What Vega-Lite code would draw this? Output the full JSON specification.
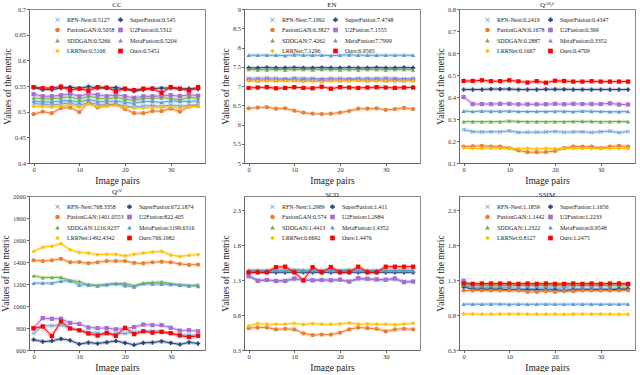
{
"$schema": "https://vega.github.io/schema/vega-lite/v6.json",
"padding": {"left": 0, "top": 0, "right": 0, "bottom": 0},
"datasets": {
"cc": [
{"m":"RFN-Nest","x":0,"y":0.516},{"m":"RFN-Nest","x":2,"y":0.514},{"m":"RFN-Nest","x":4,"y":0.513},{"m":"RFN-Nest","x":6,"y":0.515},{"m":"RFN-Nest","x":8,"y":0.517},{"m":"RFN-Nest","x":10,"y":0.512},{"m":"RFN-Nest","x":12,"y":0.518},{"m":"RFN-Nest","x":14,"y":0.514},{"m":"RFN-Nest","x":16,"y":0.513},{"m":"RFN-Nest","x":18,"y":0.515},{"m":"RFN-Nest","x":20,"y":0.511},{"m":"RFN-Nest","x":22,"y":0.509},{"m":"RFN-Nest","x":24,"y":0.511},{"m":"RFN-Nest","x":26,"y":0.512},{"m":"RFN-Nest","x":28,"y":0.510},{"m":"RFN-Nest","x":30,"y":0.513},{"m":"RFN-Nest","x":32,"y":0.511},{"m":"RFN-Nest","x":34,"y":0.512},{"m":"RFN-Nest","x":36,"y":0.514},
{"m":"SuperFusion","x":0,"y":0.547},{"m":"SuperFusion","x":2,"y":0.543},{"m":"SuperFusion","x":4,"y":0.543},{"m":"SuperFusion","x":6,"y":0.546},{"m":"SuperFusion","x":8,"y":0.548},{"m":"SuperFusion","x":10,"y":0.545},{"m":"SuperFusion","x":12,"y":0.549},{"m":"SuperFusion","x":14,"y":0.546},{"m":"SuperFusion","x":16,"y":0.546},{"m":"SuperFusion","x":18,"y":0.547},{"m":"SuperFusion","x":20,"y":0.544},{"m":"SuperFusion","x":22,"y":0.540},{"m":"SuperFusion","x":24,"y":0.543},{"m":"SuperFusion","x":26,"y":0.545},{"m":"SuperFusion","x":28,"y":0.546},{"m":"SuperFusion","x":30,"y":0.546},{"m":"SuperFusion","x":32,"y":0.544},{"m":"SuperFusion","x":34,"y":0.545},{"m":"SuperFusion","x":36,"y":0.544},
{"m":"FusionGAN","x":0,"y":0.495},{"m":"FusionGAN","x":2,"y":0.500},{"m":"FusionGAN","x":4,"y":0.497},{"m":"FusionGAN","x":6,"y":0.507},{"m":"FusionGAN","x":8,"y":0.508},{"m":"FusionGAN","x":10,"y":0.499},{"m":"FusionGAN","x":12,"y":0.518},{"m":"FusionGAN","x":14,"y":0.508},{"m":"FusionGAN","x":16,"y":0.512},{"m":"FusionGAN","x":18,"y":0.514},{"m":"FusionGAN","x":20,"y":0.505},{"m":"FusionGAN","x":22,"y":0.497},{"m":"FusionGAN","x":24,"y":0.497},{"m":"FusionGAN","x":26,"y":0.501},{"m":"FusionGAN","x":28,"y":0.501},{"m":"FusionGAN","x":30,"y":0.506},{"m":"FusionGAN","x":32,"y":0.500},{"m":"FusionGAN","x":34,"y":0.510},{"m":"FusionGAN","x":36,"y":0.511},
{"m":"U2Fusion","x":0,"y":0.534},{"m":"U2Fusion","x":2,"y":0.530},{"m":"U2Fusion","x":4,"y":0.530},{"m":"U2Fusion","x":6,"y":0.532},{"m":"U2Fusion","x":8,"y":0.535},{"m":"U2Fusion","x":10,"y":0.530},{"m":"U2Fusion","x":12,"y":0.535},{"m":"U2Fusion","x":14,"y":0.533},{"m":"U2Fusion","x":16,"y":0.530},{"m":"U2Fusion","x":18,"y":0.533},{"m":"U2Fusion","x":20,"y":0.530},{"m":"U2Fusion","x":22,"y":0.527},{"m":"U2Fusion","x":24,"y":0.530},{"m":"U2Fusion","x":26,"y":0.530},{"m":"U2Fusion","x":28,"y":0.531},{"m":"U2Fusion","x":30,"y":0.532},{"m":"U2Fusion","x":32,"y":0.530},{"m":"U2Fusion","x":34,"y":0.533},{"m":"U2Fusion","x":36,"y":0.531},
{"m":"SDDGAN","x":0,"y":0.527},{"m":"SDDGAN","x":2,"y":0.525},{"m":"SDDGAN","x":4,"y":0.525},{"m":"SDDGAN","x":6,"y":0.527},{"m":"SDDGAN","x":8,"y":0.529},{"m":"SDDGAN","x":10,"y":0.524},{"m":"SDDGAN","x":12,"y":0.530},{"m":"SDDGAN","x":14,"y":0.527},{"m":"SDDGAN","x":16,"y":0.524},{"m":"SDDGAN","x":18,"y":0.528},{"m":"SDDGAN","x":20,"y":0.524},{"m":"SDDGAN","x":22,"y":0.522},{"m":"SDDGAN","x":24,"y":0.526},{"m":"SDDGAN","x":26,"y":0.526},{"m":"SDDGAN","x":28,"y":0.527},{"m":"SDDGAN","x":30,"y":0.526},{"m":"SDDGAN","x":32,"y":0.523},{"m":"SDDGAN","x":34,"y":0.528},{"m":"SDDGAN","x":36,"y":0.526},
{"m":"MetaFusion","x":0,"y":0.521},{"m":"MetaFusion","x":2,"y":0.519},{"m":"MetaFusion","x":4,"y":0.519},{"m":"MetaFusion","x":6,"y":0.521},{"m":"MetaFusion","x":8,"y":0.522},{"m":"MetaFusion","x":10,"y":0.518},{"m":"MetaFusion","x":12,"y":0.524},{"m":"MetaFusion","x":14,"y":0.520},{"m":"MetaFusion","x":16,"y":0.519},{"m":"MetaFusion","x":18,"y":0.521},{"m":"MetaFusion","x":20,"y":0.518},{"m":"MetaFusion","x":22,"y":0.516},{"m":"MetaFusion","x":24,"y":0.520},{"m":"MetaFusion","x":26,"y":0.520},{"m":"MetaFusion","x":28,"y":0.518},{"m":"MetaFusion","x":30,"y":0.521},{"m":"MetaFusion","x":32,"y":0.520},{"m":"MetaFusion","x":34,"y":0.520},{"m":"MetaFusion","x":36,"y":0.521},
{"m":"LRRNet","x":0,"y":0.510},{"m":"LRRNet","x":2,"y":0.510},{"m":"LRRNet","x":4,"y":0.509},{"m":"LRRNet","x":6,"y":0.511},{"m":"LRRNet","x":8,"y":0.513},{"m":"LRRNet","x":10,"y":0.509},{"m":"LRRNet","x":12,"y":0.515},{"m":"LRRNet","x":14,"y":0.510},{"m":"LRRNet","x":16,"y":0.511},{"m":"LRRNet","x":18,"y":0.513},{"m":"LRRNet","x":20,"y":0.509},{"m":"LRRNet","x":22,"y":0.507},{"m":"LRRNet","x":24,"y":0.507},{"m":"LRRNet","x":26,"y":0.508},{"m":"LRRNet","x":28,"y":0.509},{"m":"LRRNet","x":30,"y":0.509},{"m":"LRRNet","x":32,"y":0.507},{"m":"LRRNet","x":34,"y":0.510},{"m":"LRRNet","x":36,"y":0.511},
{"m":"Ours","x":0,"y":0.548},{"m":"Ours","x":2,"y":0.546},{"m":"Ours","x":4,"y":0.546},{"m":"Ours","x":6,"y":0.549},{"m":"Ours","x":8,"y":0.542},{"m":"Ours","x":10,"y":0.545},{"m":"Ours","x":12,"y":0.541},{"m":"Ours","x":14,"y":0.548},{"m":"Ours","x":16,"y":0.547},{"m":"Ours","x":18,"y":0.540},{"m":"Ours","x":20,"y":0.545},{"m":"Ours","x":22,"y":0.542},{"m":"Ours","x":24,"y":0.545},{"m":"Ours","x":26,"y":0.545},{"m":"Ours","x":28,"y":0.537},{"m":"Ours","x":30,"y":0.548},{"m":"Ours","x":32,"y":0.545},{"m":"Ours","x":34,"y":0.541},{"m":"Ours","x":36,"y":0.548}
],
"en": [
{"m":"RFN-Nest","x":0,"y":7.20},{"m":"RFN-Nest","x":2,"y":7.20},{"m":"RFN-Nest","x":4,"y":7.21},{"m":"RFN-Nest","x":6,"y":7.20},{"m":"RFN-Nest","x":8,"y":7.19},{"m":"RFN-Nest","x":10,"y":7.21},{"m":"RFN-Nest","x":12,"y":7.20},{"m":"RFN-Nest","x":14,"y":7.20},{"m":"RFN-Nest","x":16,"y":7.19},{"m":"RFN-Nest","x":18,"y":7.20},{"m":"RFN-Nest","x":20,"y":7.20},{"m":"RFN-Nest","x":22,"y":7.19},{"m":"RFN-Nest","x":24,"y":7.20},{"m":"RFN-Nest","x":26,"y":7.20},{"m":"RFN-Nest","x":28,"y":7.20},{"m":"RFN-Nest","x":30,"y":7.21},{"m":"RFN-Nest","x":32,"y":7.20},{"m":"RFN-Nest","x":34,"y":7.19},{"m":"RFN-Nest","x":36,"y":7.20},
{"m":"SuperFusion","x":0,"y":7.47},{"m":"SuperFusion","x":2,"y":7.47},{"m":"SuperFusion","x":4,"y":7.48},{"m":"SuperFusion","x":6,"y":7.47},{"m":"SuperFusion","x":8,"y":7.47},{"m":"SuperFusion","x":10,"y":7.48},{"m":"SuperFusion","x":12,"y":7.47},{"m":"SuperFusion","x":14,"y":7.47},{"m":"SuperFusion","x":16,"y":7.48},{"m":"SuperFusion","x":18,"y":7.47},{"m":"SuperFusion","x":20,"y":7.47},{"m":"SuperFusion","x":22,"y":7.48},{"m":"SuperFusion","x":24,"y":7.47},{"m":"SuperFusion","x":26,"y":7.47},{"m":"SuperFusion","x":28,"y":7.48},{"m":"SuperFusion","x":30,"y":7.47},{"m":"SuperFusion","x":32,"y":7.47},{"m":"SuperFusion","x":34,"y":7.48},{"m":"SuperFusion","x":36,"y":7.47},
{"m":"FusionGAN","x":0,"y":6.42},{"m":"FusionGAN","x":2,"y":6.44},{"m":"FusionGAN","x":4,"y":6.45},{"m":"FusionGAN","x":6,"y":6.41},{"m":"FusionGAN","x":8,"y":6.42},{"m":"FusionGAN","x":10,"y":6.36},{"m":"FusionGAN","x":12,"y":6.31},{"m":"FusionGAN","x":14,"y":6.28},{"m":"FusionGAN","x":16,"y":6.27},{"m":"FusionGAN","x":18,"y":6.28},{"m":"FusionGAN","x":20,"y":6.31},{"m":"FusionGAN","x":22,"y":6.35},{"m":"FusionGAN","x":24,"y":6.41},{"m":"FusionGAN","x":26,"y":6.41},{"m":"FusionGAN","x":28,"y":6.42},{"m":"FusionGAN","x":30,"y":6.38},{"m":"FusionGAN","x":32,"y":6.40},{"m":"FusionGAN","x":34,"y":6.43},{"m":"FusionGAN","x":36,"y":6.40},
{"m":"U2Fusion","x":0,"y":7.16},{"m":"U2Fusion","x":2,"y":7.15},{"m":"U2Fusion","x":4,"y":7.16},{"m":"U2Fusion","x":6,"y":7.15},{"m":"U2Fusion","x":8,"y":7.16},{"m":"U2Fusion","x":10,"y":7.16},{"m":"U2Fusion","x":12,"y":7.15},{"m":"U2Fusion","x":14,"y":7.16},{"m":"U2Fusion","x":16,"y":7.15},{"m":"U2Fusion","x":18,"y":7.16},{"m":"U2Fusion","x":20,"y":7.15},{"m":"U2Fusion","x":22,"y":7.16},{"m":"U2Fusion","x":24,"y":7.16},{"m":"U2Fusion","x":26,"y":7.15},{"m":"U2Fusion","x":28,"y":7.16},{"m":"U2Fusion","x":30,"y":7.15},{"m":"U2Fusion","x":32,"y":7.16},{"m":"U2Fusion","x":34,"y":7.15},{"m":"U2Fusion","x":36,"y":7.16},
{"m":"SDDGAN","x":0,"y":7.43},{"m":"SDDGAN","x":2,"y":7.42},{"m":"SDDGAN","x":4,"y":7.42},{"m":"SDDGAN","x":6,"y":7.43},{"m":"SDDGAN","x":8,"y":7.42},{"m":"SDDGAN","x":10,"y":7.43},{"m":"SDDGAN","x":12,"y":7.43},{"m":"SDDGAN","x":14,"y":7.42},{"m":"SDDGAN","x":16,"y":7.43},{"m":"SDDGAN","x":18,"y":7.43},{"m":"SDDGAN","x":20,"y":7.42},{"m":"SDDGAN","x":22,"y":7.43},{"m":"SDDGAN","x":24,"y":7.42},{"m":"SDDGAN","x":26,"y":7.43},{"m":"SDDGAN","x":28,"y":7.43},{"m":"SDDGAN","x":30,"y":7.42},{"m":"SDDGAN","x":32,"y":7.43},{"m":"SDDGAN","x":34,"y":7.43},{"m":"SDDGAN","x":36,"y":7.42},
{"m":"MetaFusion","x":0,"y":7.80},{"m":"MetaFusion","x":2,"y":7.80},{"m":"MetaFusion","x":4,"y":7.80},{"m":"MetaFusion","x":6,"y":7.80},{"m":"MetaFusion","x":8,"y":7.79},{"m":"MetaFusion","x":10,"y":7.81},{"m":"MetaFusion","x":12,"y":7.80},{"m":"MetaFusion","x":14,"y":7.80},{"m":"MetaFusion","x":16,"y":7.80},{"m":"MetaFusion","x":18,"y":7.79},{"m":"MetaFusion","x":20,"y":7.80},{"m":"MetaFusion","x":22,"y":7.81},{"m":"MetaFusion","x":24,"y":7.80},{"m":"MetaFusion","x":26,"y":7.80},{"m":"MetaFusion","x":28,"y":7.80},{"m":"MetaFusion","x":30,"y":7.80},{"m":"MetaFusion","x":32,"y":7.80},{"m":"MetaFusion","x":34,"y":7.80},{"m":"MetaFusion","x":36,"y":7.80},
{"m":"LRRNet","x":0,"y":7.13},{"m":"LRRNet","x":2,"y":7.13},{"m":"LRRNet","x":4,"y":7.13},{"m":"LRRNet","x":6,"y":7.14},{"m":"LRRNet","x":8,"y":7.13},{"m":"LRRNet","x":10,"y":7.13},{"m":"LRRNet","x":12,"y":7.12},{"m":"LRRNet","x":14,"y":7.13},{"m":"LRRNet","x":16,"y":7.11},{"m":"LRRNet","x":18,"y":7.13},{"m":"LRRNet","x":20,"y":7.13},{"m":"LRRNet","x":22,"y":7.13},{"m":"LRRNet","x":24,"y":7.14},{"m":"LRRNet","x":26,"y":7.13},{"m":"LRRNet","x":28,"y":7.13},{"m":"LRRNet","x":30,"y":7.13},{"m":"LRRNet","x":32,"y":7.12},{"m":"LRRNet","x":34,"y":7.13},{"m":"LRRNet","x":36,"y":7.13},
{"m":"Ours","x":0,"y":6.95},{"m":"Ours","x":2,"y":6.96},{"m":"Ours","x":4,"y":6.97},{"m":"Ours","x":6,"y":6.94},{"m":"Ours","x":8,"y":6.95},{"m":"Ours","x":10,"y":6.97},{"m":"Ours","x":12,"y":6.95},{"m":"Ours","x":14,"y":6.94},{"m":"Ours","x":16,"y":6.98},{"m":"Ours","x":18,"y":6.93},{"m":"Ours","x":20,"y":6.97},{"m":"Ours","x":22,"y":6.96},{"m":"Ours","x":24,"y":6.95},{"m":"Ours","x":26,"y":6.96},{"m":"Ours","x":28,"y":6.97},{"m":"Ours","x":30,"y":6.96},{"m":"Ours","x":32,"y":6.95},{"m":"Ours","x":34,"y":6.96},{"m":"Ours","x":36,"y":6.96}
],
"qabf": [
{"m":"RFN-Nest","x":0,"y":0.252},{"m":"RFN-Nest","x":2,"y":0.242},{"m":"RFN-Nest","x":4,"y":0.241},{"m":"RFN-Nest","x":6,"y":0.242},{"m":"RFN-Nest","x":8,"y":0.242},{"m":"RFN-Nest","x":10,"y":0.246},{"m":"RFN-Nest","x":12,"y":0.239},{"m":"RFN-Nest","x":14,"y":0.240},{"m":"RFN-Nest","x":16,"y":0.240},{"m":"RFN-Nest","x":18,"y":0.241},{"m":"RFN-Nest","x":20,"y":0.243},{"m":"RFN-Nest","x":22,"y":0.240},{"m":"RFN-Nest","x":24,"y":0.241},{"m":"RFN-Nest","x":26,"y":0.242},{"m":"RFN-Nest","x":28,"y":0.239},{"m":"RFN-Nest","x":30,"y":0.242},{"m":"RFN-Nest","x":32,"y":0.245},{"m":"RFN-Nest","x":34,"y":0.238},{"m":"RFN-Nest","x":36,"y":0.243},
{"m":"SuperFusion","x":0,"y":0.434},{"m":"SuperFusion","x":2,"y":0.434},{"m":"SuperFusion","x":4,"y":0.434},{"m":"SuperFusion","x":6,"y":0.436},{"m":"SuperFusion","x":8,"y":0.436},{"m":"SuperFusion","x":10,"y":0.436},{"m":"SuperFusion","x":12,"y":0.434},{"m":"SuperFusion","x":14,"y":0.434},{"m":"SuperFusion","x":16,"y":0.434},{"m":"SuperFusion","x":18,"y":0.435},{"m":"SuperFusion","x":20,"y":0.435},{"m":"SuperFusion","x":22,"y":0.435},{"m":"SuperFusion","x":24,"y":0.434},{"m":"SuperFusion","x":26,"y":0.434},{"m":"SuperFusion","x":28,"y":0.434},{"m":"SuperFusion","x":30,"y":0.434},{"m":"SuperFusion","x":32,"y":0.434},{"m":"SuperFusion","x":34,"y":0.434},{"m":"SuperFusion","x":36,"y":0.434},
{"m":"FusionGAN","x":0,"y":0.175},{"m":"FusionGAN","x":2,"y":0.176},{"m":"FusionGAN","x":4,"y":0.178},{"m":"FusionGAN","x":6,"y":0.175},{"m":"FusionGAN","x":8,"y":0.175},{"m":"FusionGAN","x":10,"y":0.168},{"m":"FusionGAN","x":12,"y":0.157},{"m":"FusionGAN","x":14,"y":0.149},{"m":"FusionGAN","x":16,"y":0.149},{"m":"FusionGAN","x":18,"y":0.150},{"m":"FusionGAN","x":20,"y":0.155},{"m":"FusionGAN","x":22,"y":0.168},{"m":"FusionGAN","x":24,"y":0.175},{"m":"FusionGAN","x":26,"y":0.174},{"m":"FusionGAN","x":28,"y":0.174},{"m":"FusionGAN","x":30,"y":0.168},{"m":"FusionGAN","x":32,"y":0.174},{"m":"FusionGAN","x":34,"y":0.178},{"m":"FusionGAN","x":36,"y":0.174},
{"m":"U2Fusion","x":0,"y":0.400},{"m":"U2Fusion","x":2,"y":0.368},{"m":"U2Fusion","x":4,"y":0.368},{"m":"U2Fusion","x":6,"y":0.368},{"m":"U2Fusion","x":8,"y":0.369},{"m":"U2Fusion","x":10,"y":0.369},{"m":"U2Fusion","x":12,"y":0.367},{"m":"U2Fusion","x":14,"y":0.367},{"m":"U2Fusion","x":16,"y":0.367},{"m":"U2Fusion","x":18,"y":0.367},{"m":"U2Fusion","x":20,"y":0.369},{"m":"U2Fusion","x":22,"y":0.367},{"m":"U2Fusion","x":24,"y":0.369},{"m":"U2Fusion","x":26,"y":0.368},{"m":"U2Fusion","x":28,"y":0.368},{"m":"U2Fusion","x":30,"y":0.368},{"m":"U2Fusion","x":32,"y":0.371},{"m":"U2Fusion","x":34,"y":0.366},{"m":"U2Fusion","x":36,"y":0.366},
{"m":"SDDGAN","x":0,"y":0.288},{"m":"SDDGAN","x":2,"y":0.288},{"m":"SDDGAN","x":4,"y":0.288},{"m":"SDDGAN","x":6,"y":0.288},{"m":"SDDGAN","x":8,"y":0.288},{"m":"SDDGAN","x":10,"y":0.291},{"m":"SDDGAN","x":12,"y":0.289},{"m":"SDDGAN","x":14,"y":0.288},{"m":"SDDGAN","x":16,"y":0.288},{"m":"SDDGAN","x":18,"y":0.288},{"m":"SDDGAN","x":20,"y":0.288},{"m":"SDDGAN","x":22,"y":0.288},{"m":"SDDGAN","x":24,"y":0.289},{"m":"SDDGAN","x":26,"y":0.289},{"m":"SDDGAN","x":28,"y":0.289},{"m":"SDDGAN","x":30,"y":0.287},{"m":"SDDGAN","x":32,"y":0.288},{"m":"SDDGAN","x":34,"y":0.289},{"m":"SDDGAN","x":36,"y":0.288},
{"m":"MetaFusion","x":0,"y":0.336},{"m":"MetaFusion","x":2,"y":0.334},{"m":"MetaFusion","x":4,"y":0.336},{"m":"MetaFusion","x":6,"y":0.335},{"m":"MetaFusion","x":8,"y":0.335},{"m":"MetaFusion","x":10,"y":0.336},{"m":"MetaFusion","x":12,"y":0.334},{"m":"MetaFusion","x":14,"y":0.334},{"m":"MetaFusion","x":16,"y":0.334},{"m":"MetaFusion","x":18,"y":0.334},{"m":"MetaFusion","x":20,"y":0.335},{"m":"MetaFusion","x":22,"y":0.335},{"m":"MetaFusion","x":24,"y":0.333},{"m":"MetaFusion","x":26,"y":0.336},{"m":"MetaFusion","x":28,"y":0.335},{"m":"MetaFusion","x":30,"y":0.334},{"m":"MetaFusion","x":32,"y":0.333},{"m":"MetaFusion","x":34,"y":0.333},{"m":"MetaFusion","x":36,"y":0.334},
{"m":"LRRNet","x":0,"y":0.169},{"m":"LRRNet","x":2,"y":0.166},{"m":"LRRNet","x":4,"y":0.166},{"m":"LRRNet","x":6,"y":0.168},{"m":"LRRNet","x":8,"y":0.167},{"m":"LRRNet","x":10,"y":0.166},{"m":"LRRNet","x":12,"y":0.165},{"m":"LRRNet","x":14,"y":0.167},{"m":"LRRNet","x":16,"y":0.164},{"m":"LRRNet","x":18,"y":0.167},{"m":"LRRNet","x":20,"y":0.165},{"m":"LRRNet","x":22,"y":0.166},{"m":"LRRNet","x":24,"y":0.167},{"m":"LRRNet","x":26,"y":0.166},{"m":"LRRNet","x":28,"y":0.166},{"m":"LRRNet","x":30,"y":0.166},{"m":"LRRNet","x":32,"y":0.167},{"m":"LRRNet","x":34,"y":0.166},{"m":"LRRNet","x":36,"y":0.166},
{"m":"Ours","x":0,"y":0.473},{"m":"Ours","x":2,"y":0.473},{"m":"Ours","x":4,"y":0.476},{"m":"Ours","x":6,"y":0.472},{"m":"Ours","x":8,"y":0.472},{"m":"Ours","x":10,"y":0.476},{"m":"Ours","x":12,"y":0.471},{"m":"Ours","x":14,"y":0.466},{"m":"Ours","x":16,"y":0.472},{"m":"Ours","x":18,"y":0.465},{"m":"Ours","x":20,"y":0.474},{"m":"Ours","x":22,"y":0.473},{"m":"Ours","x":24,"y":0.470},{"m":"Ours","x":26,"y":0.470},{"m":"Ours","x":28,"y":0.472},{"m":"Ours","x":30,"y":0.470},{"m":"Ours","x":32,"y":0.470},{"m":"Ours","x":34,"y":0.470},{"m":"Ours","x":36,"y":0.470}
],
"qcv": [
{"m":"RFN-Nest","x":0,"y":750},{"m":"RFN-Nest","x":2,"y":820},{"m":"RFN-Nest","x":4,"y":820},{"m":"RFN-Nest","x":6,"y":829},{"m":"RFN-Nest","x":8,"y":794},{"m":"RFN-Nest","x":10,"y":782},{"m":"RFN-Nest","x":12,"y":762},{"m":"RFN-Nest","x":14,"y":753},{"m":"RFN-Nest","x":16,"y":744},{"m":"RFN-Nest","x":18,"y":750},{"m":"RFN-Nest","x":20,"y":750},{"m":"RFN-Nest","x":22,"y":762},{"m":"RFN-Nest","x":24,"y":770},{"m":"RFN-Nest","x":26,"y":773},{"m":"RFN-Nest","x":28,"y":770},{"m":"RFN-Nest","x":30,"y":753},{"m":"RFN-Nest","x":32,"y":735},{"m":"RFN-Nest","x":34,"y":735},{"m":"RFN-Nest","x":36,"y":735},
{"m":"SuperFusion","x":0,"y":694},{"m":"SuperFusion","x":2,"y":676},{"m":"SuperFusion","x":4,"y":682},{"m":"SuperFusion","x":6,"y":702},{"m":"SuperFusion","x":8,"y":688},{"m":"SuperFusion","x":10,"y":653},{"m":"SuperFusion","x":12,"y":668},{"m":"SuperFusion","x":14,"y":659},{"m":"SuperFusion","x":16,"y":670},{"m":"SuperFusion","x":18,"y":682},{"m":"SuperFusion","x":20,"y":665},{"m":"SuperFusion","x":22,"y":647},{"m":"SuperFusion","x":24,"y":665},{"m":"SuperFusion","x":26,"y":668},{"m":"SuperFusion","x":28,"y":679},{"m":"SuperFusion","x":30,"y":665},{"m":"SuperFusion","x":32,"y":650},{"m":"SuperFusion","x":34,"y":670},{"m":"SuperFusion","x":36,"y":659},
{"m":"FusionGAN","x":0,"y":1415},{"m":"FusionGAN","x":2,"y":1409},{"m":"FusionGAN","x":4,"y":1415},{"m":"FusionGAN","x":6,"y":1429},{"m":"FusionGAN","x":8,"y":1397},{"m":"FusionGAN","x":10,"y":1400},{"m":"FusionGAN","x":12,"y":1388},{"m":"FusionGAN","x":14,"y":1397},{"m":"FusionGAN","x":16,"y":1409},{"m":"FusionGAN","x":18,"y":1409},{"m":"FusionGAN","x":20,"y":1409},{"m":"FusionGAN","x":22,"y":1391},{"m":"FusionGAN","x":24,"y":1388},{"m":"FusionGAN","x":26,"y":1397},{"m":"FusionGAN","x":28,"y":1403},{"m":"FusionGAN","x":30,"y":1397},{"m":"FusionGAN","x":32,"y":1383},{"m":"FusionGAN","x":34,"y":1374},{"m":"FusionGAN","x":36,"y":1377},
{"m":"U2Fusion","x":0,"y":800},{"m":"U2Fusion","x":2,"y":890},{"m":"U2Fusion","x":4,"y":884},{"m":"U2Fusion","x":6,"y":884},{"m":"U2Fusion","x":8,"y":846},{"m":"U2Fusion","x":10,"y":837},{"m":"U2Fusion","x":12,"y":805},{"m":"U2Fusion","x":14,"y":799},{"m":"U2Fusion","x":16,"y":799},{"m":"U2Fusion","x":18,"y":788},{"m":"U2Fusion","x":20,"y":796},{"m":"U2Fusion","x":22,"y":808},{"m":"U2Fusion","x":24,"y":831},{"m":"U2Fusion","x":26,"y":826},{"m":"U2Fusion","x":28,"y":826},{"m":"U2Fusion","x":30,"y":802},{"m":"U2Fusion","x":32,"y":776},{"m":"U2Fusion","x":34,"y":780},{"m":"U2Fusion","x":36,"y":770},
{"m":"SDDGAN","x":0,"y":1275},{"m":"SDDGAN","x":2,"y":1258},{"m":"SDDGAN","x":4,"y":1260},{"m":"SDDGAN","x":6,"y":1260},{"m":"SDDGAN","x":8,"y":1231},{"m":"SDDGAN","x":10,"y":1223},{"m":"SDDGAN","x":12,"y":1190},{"m":"SDDGAN","x":14,"y":1188},{"m":"SDDGAN","x":16,"y":1196},{"m":"SDDGAN","x":18,"y":1205},{"m":"SDDGAN","x":20,"y":1205},{"m":"SDDGAN","x":22,"y":1185},{"m":"SDDGAN","x":24,"y":1208},{"m":"SDDGAN","x":26,"y":1214},{"m":"SDDGAN","x":28,"y":1219},{"m":"SDDGAN","x":30,"y":1202},{"m":"SDDGAN","x":32,"y":1193},{"m":"SDDGAN","x":34,"y":1188},{"m":"SDDGAN","x":36,"y":1179},
{"m":"MetaFusion","x":0,"y":1208},{"m":"MetaFusion","x":2,"y":1208},{"m":"MetaFusion","x":4,"y":1208},{"m":"MetaFusion","x":6,"y":1225},{"m":"MetaFusion","x":8,"y":1231},{"m":"MetaFusion","x":10,"y":1190},{"m":"MetaFusion","x":12,"y":1196},{"m":"MetaFusion","x":14,"y":1182},{"m":"MetaFusion","x":16,"y":1193},{"m":"MetaFusion","x":18,"y":1202},{"m":"MetaFusion","x":20,"y":1185},{"m":"MetaFusion","x":22,"y":1173},{"m":"MetaFusion","x":24,"y":1202},{"m":"MetaFusion","x":26,"y":1199},{"m":"MetaFusion","x":28,"y":1199},{"m":"MetaFusion","x":30,"y":1196},{"m":"MetaFusion","x":32,"y":1190},{"m":"MetaFusion","x":34,"y":1182},{"m":"MetaFusion","x":36,"y":1193},
{"m":"LRRNet","x":0,"y":1496},{"m":"LRRNet","x":2,"y":1534},{"m":"LRRNet","x":4,"y":1543},{"m":"LRRNet","x":6,"y":1566},{"m":"LRRNet","x":8,"y":1511},{"m":"LRRNet","x":10,"y":1487},{"m":"LRRNet","x":12,"y":1481},{"m":"LRRNet","x":14,"y":1467},{"m":"LRRNet","x":16,"y":1470},{"m":"LRRNet","x":18,"y":1470},{"m":"LRRNet","x":20,"y":1455},{"m":"LRRNet","x":22,"y":1470},{"m":"LRRNet","x":24,"y":1481},{"m":"LRRNet","x":26,"y":1490},{"m":"LRRNet","x":28,"y":1496},{"m":"LRRNet","x":30,"y":1464},{"m":"LRRNet","x":32,"y":1450},{"m":"LRRNet","x":34,"y":1461},{"m":"LRRNet","x":36,"y":1467},
{"m":"Ours","x":0,"y":796},{"m":"Ours","x":2,"y":814},{"m":"Ours","x":4,"y":726},{"m":"Ours","x":6,"y":860},{"m":"Ours","x":8,"y":796},{"m":"Ours","x":10,"y":779},{"m":"Ours","x":12,"y":750},{"m":"Ours","x":14,"y":732},{"m":"Ours","x":16,"y":756},{"m":"Ours","x":18,"y":729},{"m":"Ours","x":20,"y":802},{"m":"Ours","x":22,"y":744},{"m":"Ours","x":24,"y":770},{"m":"Ours","x":26,"y":758},{"m":"Ours","x":28,"y":764},{"m":"Ours","x":30,"y":753},{"m":"Ours","x":32,"y":732},{"m":"Ours","x":34,"y":718},{"m":"Ours","x":36,"y":729}
],
"scd": [
{"m":"RFN-Nest","x":0,"y":1.36},{"m":"RFN-Nest","x":2,"y":1.30},{"m":"RFN-Nest","x":4,"y":1.30},{"m":"RFN-Nest","x":6,"y":1.29},{"m":"RFN-Nest","x":8,"y":1.29},{"m":"RFN-Nest","x":10,"y":1.31},{"m":"RFN-Nest","x":12,"y":1.30},{"m":"RFN-Nest","x":14,"y":1.30},{"m":"RFN-Nest","x":16,"y":1.30},{"m":"RFN-Nest","x":18,"y":1.30},{"m":"RFN-Nest","x":20,"y":1.30},{"m":"RFN-Nest","x":22,"y":1.28},{"m":"RFN-Nest","x":24,"y":1.31},{"m":"RFN-Nest","x":26,"y":1.31},{"m":"RFN-Nest","x":28,"y":1.30},{"m":"RFN-Nest","x":30,"y":1.30},{"m":"RFN-Nest","x":32,"y":1.31},{"m":"RFN-Nest","x":34,"y":1.28},{"m":"RFN-Nest","x":36,"y":1.28},
{"m":"SuperFusion","x":0,"y":1.41},{"m":"SuperFusion","x":2,"y":1.41},{"m":"SuperFusion","x":4,"y":1.41},{"m":"SuperFusion","x":6,"y":1.41},{"m":"SuperFusion","x":8,"y":1.41},{"m":"SuperFusion","x":10,"y":1.41},{"m":"SuperFusion","x":12,"y":1.41},{"m":"SuperFusion","x":14,"y":1.41},{"m":"SuperFusion","x":16,"y":1.41},{"m":"SuperFusion","x":18,"y":1.41},{"m":"SuperFusion","x":20,"y":1.41},{"m":"SuperFusion","x":22,"y":1.41},{"m":"SuperFusion","x":24,"y":1.41},{"m":"SuperFusion","x":26,"y":1.41},{"m":"SuperFusion","x":28,"y":1.41},{"m":"SuperFusion","x":30,"y":1.41},{"m":"SuperFusion","x":32,"y":1.41},{"m":"SuperFusion","x":34,"y":1.41},{"m":"SuperFusion","x":36,"y":1.41},
{"m":"FusionGAN","x":0,"y":0.612},{"m":"FusionGAN","x":2,"y":0.621},{"m":"FusionGAN","x":4,"y":0.621},{"m":"FusionGAN","x":6,"y":0.594},{"m":"FusionGAN","x":8,"y":0.603},{"m":"FusionGAN","x":10,"y":0.594},{"m":"FusionGAN","x":12,"y":0.539},{"m":"FusionGAN","x":14,"y":0.511},{"m":"FusionGAN","x":16,"y":0.520},{"m":"FusionGAN","x":18,"y":0.520},{"m":"FusionGAN","x":20,"y":0.548},{"m":"FusionGAN","x":22,"y":0.594},{"m":"FusionGAN","x":24,"y":0.621},{"m":"FusionGAN","x":26,"y":0.612},{"m":"FusionGAN","x":28,"y":0.603},{"m":"FusionGAN","x":30,"y":0.566},{"m":"FusionGAN","x":32,"y":0.594},{"m":"FusionGAN","x":34,"y":0.603},{"m":"FusionGAN","x":36,"y":0.594},
{"m":"U2Fusion","x":0,"y":1.355},{"m":"U2Fusion","x":2,"y":1.286},{"m":"U2Fusion","x":4,"y":1.300},{"m":"U2Fusion","x":6,"y":1.286},{"m":"U2Fusion","x":8,"y":1.286},{"m":"U2Fusion","x":10,"y":1.323},{"m":"U2Fusion","x":12,"y":1.295},{"m":"U2Fusion","x":14,"y":1.295},{"m":"U2Fusion","x":16,"y":1.300},{"m":"U2Fusion","x":18,"y":1.295},{"m":"U2Fusion","x":20,"y":1.305},{"m":"U2Fusion","x":22,"y":1.277},{"m":"U2Fusion","x":24,"y":1.328},{"m":"U2Fusion","x":26,"y":1.318},{"m":"U2Fusion","x":28,"y":1.309},{"m":"U2Fusion","x":30,"y":1.305},{"m":"U2Fusion","x":32,"y":1.323},{"m":"U2Fusion","x":34,"y":1.268},{"m":"U2Fusion","x":36,"y":1.277},
{"m":"SDDGAN","x":0,"y":1.44},{"m":"SDDGAN","x":2,"y":1.44},{"m":"SDDGAN","x":4,"y":1.44},{"m":"SDDGAN","x":6,"y":1.44},{"m":"SDDGAN","x":8,"y":1.44},{"m":"SDDGAN","x":10,"y":1.45},{"m":"SDDGAN","x":12,"y":1.44},{"m":"SDDGAN","x":14,"y":1.44},{"m":"SDDGAN","x":16,"y":1.44},{"m":"SDDGAN","x":18,"y":1.44},{"m":"SDDGAN","x":20,"y":1.44},{"m":"SDDGAN","x":22,"y":1.45},{"m":"SDDGAN","x":24,"y":1.44},{"m":"SDDGAN","x":26,"y":1.44},{"m":"SDDGAN","x":28,"y":1.44},{"m":"SDDGAN","x":30,"y":1.44},{"m":"SDDGAN","x":32,"y":1.44},{"m":"SDDGAN","x":34,"y":1.44},{"m":"SDDGAN","x":36,"y":1.44},
{"m":"MetaFusion","x":0,"y":1.435},{"m":"MetaFusion","x":2,"y":1.435},{"m":"MetaFusion","x":4,"y":1.435},{"m":"MetaFusion","x":6,"y":1.435},{"m":"MetaFusion","x":8,"y":1.435},{"m":"MetaFusion","x":10,"y":1.435},{"m":"MetaFusion","x":12,"y":1.435},{"m":"MetaFusion","x":14,"y":1.435},{"m":"MetaFusion","x":16,"y":1.435},{"m":"MetaFusion","x":18,"y":1.435},{"m":"MetaFusion","x":20,"y":1.435},{"m":"MetaFusion","x":22,"y":1.435},{"m":"MetaFusion","x":24,"y":1.435},{"m":"MetaFusion","x":26,"y":1.435},{"m":"MetaFusion","x":28,"y":1.435},{"m":"MetaFusion","x":30,"y":1.435},{"m":"MetaFusion","x":32,"y":1.435},{"m":"MetaFusion","x":34,"y":1.435},{"m":"MetaFusion","x":36,"y":1.435},
{"m":"LRRNet","x":0,"y":0.641},{"m":"LRRNet","x":2,"y":0.677},{"m":"LRRNet","x":4,"y":0.668},{"m":"LRRNet","x":6,"y":0.668},{"m":"LRRNet","x":8,"y":0.668},{"m":"LRRNet","x":10,"y":0.682},{"m":"LRRNet","x":12,"y":0.664},{"m":"LRRNet","x":14,"y":0.677},{"m":"LRRNet","x":16,"y":0.668},{"m":"LRRNet","x":18,"y":0.668},{"m":"LRRNet","x":20,"y":0.673},{"m":"LRRNet","x":22,"y":0.686},{"m":"LRRNet","x":24,"y":0.668},{"m":"LRRNet","x":26,"y":0.673},{"m":"LRRNet","x":28,"y":0.668},{"m":"LRRNet","x":30,"y":0.668},{"m":"LRRNet","x":32,"y":0.664},{"m":"LRRNet","x":34,"y":0.668},{"m":"LRRNet","x":36,"y":0.682},
{"m":"Ours","x":0,"y":1.41},{"m":"Ours","x":2,"y":1.41},{"m":"Ours","x":4,"y":1.41},{"m":"Ours","x":6,"y":1.483},{"m":"Ours","x":8,"y":1.49},{"m":"Ours","x":10,"y":1.41},{"m":"Ours","x":12,"y":1.295},{"m":"Ours","x":14,"y":1.483},{"m":"Ours","x":16,"y":1.41},{"m":"Ours","x":18,"y":1.483},{"m":"Ours","x":20,"y":1.41},{"m":"Ours","x":22,"y":1.41},{"m":"Ours","x":24,"y":1.49},{"m":"Ours","x":26,"y":1.41},{"m":"Ours","x":28,"y":1.41},{"m":"Ours","x":30,"y":1.49},{"m":"Ours","x":32,"y":1.49},{"m":"Ours","x":34,"y":1.49},{"m":"Ours","x":36,"y":1.49}
],
"ssim": [
{"m":"RFN-Nest","x":0,"y":1.22},{"m":"RFN-Nest","x":2,"y":1.19},{"m":"RFN-Nest","x":4,"y":1.19},{"m":"RFN-Nest","x":6,"y":1.19},{"m":"RFN-Nest","x":8,"y":1.19},{"m":"RFN-Nest","x":10,"y":1.19},{"m":"RFN-Nest","x":12,"y":1.18},{"m":"RFN-Nest","x":14,"y":1.18},{"m":"RFN-Nest","x":16,"y":1.18},{"m":"RFN-Nest","x":18,"y":1.19},{"m":"RFN-Nest","x":20,"y":1.18},{"m":"RFN-Nest","x":22,"y":1.19},{"m":"RFN-Nest","x":24,"y":1.18},{"m":"RFN-Nest","x":26,"y":1.18},{"m":"RFN-Nest","x":28,"y":1.18},{"m":"RFN-Nest","x":30,"y":1.18},{"m":"RFN-Nest","x":32,"y":1.18},{"m":"RFN-Nest","x":34,"y":1.18},{"m":"RFN-Nest","x":36,"y":1.19},
{"m":"SuperFusion","x":0,"y":1.20},{"m":"SuperFusion","x":2,"y":1.17},{"m":"SuperFusion","x":4,"y":1.17},{"m":"SuperFusion","x":6,"y":1.17},{"m":"SuperFusion","x":8,"y":1.17},{"m":"SuperFusion","x":10,"y":1.16},{"m":"SuperFusion","x":12,"y":1.16},{"m":"SuperFusion","x":14,"y":1.16},{"m":"SuperFusion","x":16,"y":1.16},{"m":"SuperFusion","x":18,"y":1.16},{"m":"SuperFusion","x":20,"y":1.16},{"m":"SuperFusion","x":22,"y":1.15},{"m":"SuperFusion","x":24,"y":1.16},{"m":"SuperFusion","x":26,"y":1.16},{"m":"SuperFusion","x":28,"y":1.16},{"m":"SuperFusion","x":30,"y":1.16},{"m":"SuperFusion","x":32,"y":1.16},{"m":"SuperFusion","x":34,"y":1.17},{"m":"SuperFusion","x":36,"y":1.17},
{"m":"FusionGAN","x":0,"y":1.15},{"m":"FusionGAN","x":2,"y":1.15},{"m":"FusionGAN","x":4,"y":1.15},{"m":"FusionGAN","x":6,"y":1.15},{"m":"FusionGAN","x":8,"y":1.15},{"m":"FusionGAN","x":10,"y":1.15},{"m":"FusionGAN","x":12,"y":1.15},{"m":"FusionGAN","x":14,"y":1.13},{"m":"FusionGAN","x":16,"y":1.13},{"m":"FusionGAN","x":18,"y":1.14},{"m":"FusionGAN","x":20,"y":1.13},{"m":"FusionGAN","x":22,"y":1.14},{"m":"FusionGAN","x":24,"y":1.14},{"m":"FusionGAN","x":26,"y":1.15},{"m":"FusionGAN","x":28,"y":1.15},{"m":"FusionGAN","x":30,"y":1.15},{"m":"FusionGAN","x":32,"y":1.15},{"m":"FusionGAN","x":34,"y":1.15},{"m":"FusionGAN","x":36,"y":1.15},
{"m":"U2Fusion","x":0,"y":1.29},{"m":"U2Fusion","x":2,"y":1.22},{"m":"U2Fusion","x":4,"y":1.22},{"m":"U2Fusion","x":6,"y":1.22},{"m":"U2Fusion","x":8,"y":1.22},{"m":"U2Fusion","x":10,"y":1.22},{"m":"U2Fusion","x":12,"y":1.22},{"m":"U2Fusion","x":14,"y":1.22},{"m":"U2Fusion","x":16,"y":1.22},{"m":"U2Fusion","x":18,"y":1.22},{"m":"U2Fusion","x":20,"y":1.22},{"m":"U2Fusion","x":22,"y":1.22},{"m":"U2Fusion","x":24,"y":1.22},{"m":"U2Fusion","x":26,"y":1.22},{"m":"U2Fusion","x":28,"y":1.22},{"m":"U2Fusion","x":30,"y":1.22},{"m":"U2Fusion","x":32,"y":1.22},{"m":"U2Fusion","x":34,"y":1.23},{"m":"U2Fusion","x":36,"y":1.23},
{"m":"SDDGAN","x":0,"y":1.23},{"m":"SDDGAN","x":2,"y":1.23},{"m":"SDDGAN","x":4,"y":1.23},{"m":"SDDGAN","x":6,"y":1.23},{"m":"SDDGAN","x":8,"y":1.23},{"m":"SDDGAN","x":10,"y":1.23},{"m":"SDDGAN","x":12,"y":1.23},{"m":"SDDGAN","x":14,"y":1.23},{"m":"SDDGAN","x":16,"y":1.23},{"m":"SDDGAN","x":18,"y":1.23},{"m":"SDDGAN","x":20,"y":1.23},{"m":"SDDGAN","x":22,"y":1.23},{"m":"SDDGAN","x":24,"y":1.23},{"m":"SDDGAN","x":26,"y":1.23},{"m":"SDDGAN","x":28,"y":1.23},{"m":"SDDGAN","x":30,"y":1.23},{"m":"SDDGAN","x":32,"y":1.23},{"m":"SDDGAN","x":34,"y":1.23},{"m":"SDDGAN","x":36,"y":1.23},
{"m":"MetaFusion","x":0,"y":0.956},{"m":"MetaFusion","x":2,"y":0.955},{"m":"MetaFusion","x":4,"y":0.955},{"m":"MetaFusion","x":6,"y":0.956},{"m":"MetaFusion","x":8,"y":0.957},{"m":"MetaFusion","x":10,"y":0.953},{"m":"MetaFusion","x":12,"y":0.955},{"m":"MetaFusion","x":14,"y":0.954},{"m":"MetaFusion","x":16,"y":0.955},{"m":"MetaFusion","x":18,"y":0.956},{"m":"MetaFusion","x":20,"y":0.954},{"m":"MetaFusion","x":22,"y":0.954},{"m":"MetaFusion","x":24,"y":0.955},{"m":"MetaFusion","x":26,"y":0.955},{"m":"MetaFusion","x":28,"y":0.955},{"m":"MetaFusion","x":30,"y":0.954},{"m":"MetaFusion","x":32,"y":0.954},{"m":"MetaFusion","x":34,"y":0.955},{"m":"MetaFusion","x":36,"y":0.956},
{"m":"LRRNet","x":0,"y":0.815},{"m":"LRRNet","x":2,"y":0.814},{"m":"LRRNet","x":4,"y":0.812},{"m":"LRRNet","x":6,"y":0.812},{"m":"LRRNet","x":8,"y":0.814},{"m":"LRRNet","x":10,"y":0.813},{"m":"LRRNet","x":12,"y":0.814},{"m":"LRRNet","x":14,"y":0.812},{"m":"LRRNet","x":16,"y":0.811},{"m":"LRRNet","x":18,"y":0.812},{"m":"LRRNet","x":20,"y":0.812},{"m":"LRRNet","x":22,"y":0.810},{"m":"LRRNet","x":24,"y":0.812},{"m":"LRRNet","x":26,"y":0.813},{"m":"LRRNet","x":28,"y":0.812},{"m":"LRRNet","x":30,"y":0.814},{"m":"LRRNet","x":32,"y":0.811},{"m":"LRRNet","x":34,"y":0.809},{"m":"LRRNet","x":36,"y":0.810},
{"m":"Ours","x":0,"y":1.25},{"m":"Ours","x":2,"y":1.245},{"m":"Ours","x":4,"y":1.25},{"m":"Ours","x":6,"y":1.25},{"m":"Ours","x":8,"y":1.25},{"m":"Ours","x":10,"y":1.25},{"m":"Ours","x":12,"y":1.245},{"m":"Ours","x":14,"y":1.25},{"m":"Ours","x":16,"y":1.245},{"m":"Ours","x":18,"y":1.25},{"m":"Ours","x":20,"y":1.245},{"m":"Ours","x":22,"y":1.245},{"m":"Ours","x":24,"y":1.25},{"m":"Ours","x":26,"y":1.245},{"m":"Ours","x":28,"y":1.25},{"m":"Ours","x":30,"y":1.245},{"m":"Ours","x":32,"y":1.25},{"m":"Ours","x":34,"y":1.25},{"m":"Ours","x":36,"y":1.245}
]
},
"columns": 3,
"spacing": {"row": 2, "column": 13},
"resolve": {"scale": {"color": "independent", "shape": "independent", "stroke": "independent"}, "legend": {"color": "independent", "shape": "independent", "stroke": "independent"}},
"concat": [
{
"title": "CC", "data": {"name": "cc"}, "width": 176, "height": 154,
"encoding": {
"x": {"field": "x", "type": "quantitative", "scale": {"domain": [-1, 37.5], "nice": false, "zero": false}, "axis": {"values": [0, 10, 20, 30], "title": "Image pairs"}},
"y": {"field": "y", "type": "quantitative", "scale": {"domain": [0.4, 0.7], "nice": false, "zero": false}, "axis": {"values": [0.4, 0.45, 0.5, 0.55, 0.6, 0.65, 0.7], "format": ".2~f", "title": "Values of the metric"}}
},
"layer": [
{"mark": {"type": "line", "strokeWidth": 3.5, "opacity": 0.25}, "encoding": {"stroke": {"field": "m", "type": "nominal", "legend": null, "scale": {"domain": ["Ours","LRRNet","MetaFusion","SDDGAN","U2Fusion","FusionGAN","SuperFusion","RFN-Nest"], "range": ["#FF0000","#FFC000","#5B9BD5","#70AD47","#A66DD4","#ED7D31","#264478","#6FA0DC"]}}}},
{"mark": {"type": "line", "strokeWidth": 1}, "encoding": {"stroke": {"field": "m", "type": "nominal", "legend": null, "scale": {"domain": ["Ours","LRRNet","MetaFusion","SDDGAN","U2Fusion","FusionGAN","SuperFusion","RFN-Nest"], "range": ["#FF0000","#FFC000","#5B9BD5","#70AD47","#A66DD4","#ED7D31","#264478","#6FA0DC"]}}}},
{"mark": {"type": "point", "filled": true, "size": 18, "opacity": 1}, "encoding": {
"color": {"field": "m", "type": "nominal", "scale": {"domain": ["RFN-Nest","SuperFusion","FusionGAN","U2Fusion","SDDGAN","MetaFusion","LRRNet","Ours"], "range": ["#6FA0DC","#264478","#ED7D31","#A66DD4","#70AD47","#5B9BD5","#FFC000","#FF0000"]},
"legend": {"title": null, "labelExpr": "datum.label + ':' + {'RFN-Nest':'0.5127','SuperFusion':'0.545','FusionGAN':'0.5058','U2Fusion':'0.5312','SDDGAN':'0.5266','MetaFusion':'0.5204','LRRNet':'0.5106','Ours':'0.5451'}[datum.label]"}},
"shape": {"field": "m", "type": "nominal", "scale": {"domain": ["RFN-Nest","SuperFusion","FusionGAN","U2Fusion","SDDGAN","MetaFusion","LRRNet","Ours"], "range": ["M-1,-0.75L-0.75,-1L0,-0.25L0.75,-1L1,-0.75L0.25,0L1,0.75L0.75,1L0,0.25L-0.75,1L-1,0.75L-0.25,0Z","cross","circle","square","triangle-up","triangle-up","diamond","square"]},
"legend": {"title": null, "labelExpr": "datum.label + ':' + {'RFN-Nest':'0.5127','SuperFusion':'0.545','FusionGAN':'0.5058','U2Fusion':'0.5312','SDDGAN':'0.5266','MetaFusion':'0.5204','LRRNet':'0.5106','Ours':'0.5451'}[datum.label]"}}}}
]
},
{
"title": "EN", "data": {"name": "en"}, "width": 176, "height": 154,
"encoding": {
"x": {"field": "x", "type": "quantitative", "scale": {"domain": [-1, 37.5], "nice": false, "zero": false}, "axis": {"values": [0, 10, 20, 30], "title": "Image pairs"}},
"y": {"field": "y", "type": "quantitative", "scale": {"domain": [5, 9], "nice": false, "zero": false}, "axis": {"values": [5, 5.5, 6, 6.5, 7, 7.5, 8, 8.5, 9], "format": ".1~f", "title": "Values of the metric"}}
},
"layer": [
{"mark": {"type": "line", "strokeWidth": 3.5, "opacity": 0.25}, "encoding": {"stroke": {"field": "m", "type": "nominal", "legend": null, "scale": {"domain": ["Ours","LRRNet","MetaFusion","SDDGAN","U2Fusion","FusionGAN","SuperFusion","RFN-Nest"], "range": ["#FF0000","#FFC000","#5B9BD5","#70AD47","#A66DD4","#ED7D31","#264478","#6FA0DC"]}}}},
{"mark": {"type": "line", "strokeWidth": 1}, "encoding": {"stroke": {"field": "m", "type": "nominal", "legend": null, "scale": {"domain": ["Ours","LRRNet","MetaFusion","SDDGAN","U2Fusion","FusionGAN","SuperFusion","RFN-Nest"], "range": ["#FF0000","#FFC000","#5B9BD5","#70AD47","#A66DD4","#ED7D31","#264478","#6FA0DC"]}}}},
{"mark": {"type": "point", "filled": true, "size": 18, "opacity": 1}, "encoding": {
"color": {"field": "m", "type": "nominal", "scale": {"domain": ["RFN-Nest","SuperFusion","FusionGAN","U2Fusion","SDDGAN","MetaFusion","LRRNet","Ours"], "range": ["#6FA0DC","#264478","#ED7D31","#A66DD4","#70AD47","#5B9BD5","#FFC000","#FF0000"]},
"legend": {"title": null, "labelExpr": "datum.label + ':' + {'RFN-Nest':'7.1992','SuperFusion':'7.4748','FusionGAN':'6.3827','U2Fusion':'7.1555','SDDGAN':'7.4262','MetaFusion':'7.7999','LRRNet':'7.1296','Ours':'6.9565'}[datum.label]"}},
"shape": {"field": "m", "type": "nominal", "scale": {"domain": ["RFN-Nest","SuperFusion","FusionGAN","U2Fusion","SDDGAN","MetaFusion","LRRNet","Ours"], "range": ["M-1,-0.75L-0.75,-1L0,-0.25L0.75,-1L1,-0.75L0.25,0L1,0.75L0.75,1L0,0.25L-0.75,1L-1,0.75L-0.25,0Z","cross","circle","square","triangle-up","triangle-up","diamond","square"]},
"legend": {"title": null, "labelExpr": "datum.label + ':' + {'RFN-Nest':'7.1992','SuperFusion':'7.4748','FusionGAN':'6.3827','U2Fusion':'7.1555','SDDGAN':'7.4262','MetaFusion':'7.7999','LRRNet':'7.1296','Ours':'6.9565'}[datum.label]"}}}}
]
},
{
"title": "Qᴬᴮ/ᶠ", "data": {"name": "qabf"}, "width": 176, "height": 154,
"encoding": {
"x": {"field": "x", "type": "quantitative", "scale": {"domain": [-1, 37.5], "nice": false, "zero": false}, "axis": {"values": [0, 10, 20, 30], "title": "Image pairs"}},
"y": {"field": "y", "type": "quantitative", "scale": {"domain": [0.1, 0.8], "nice": false, "zero": false}, "axis": {"values": [0.1, 0.2, 0.3, 0.4, 0.5, 0.6, 0.7, 0.8], "format": ".1f", "title": "Values of the metric"}}
},
"layer": [
{"mark": {"type": "line", "strokeWidth": 3.5, "opacity": 0.25}, "encoding": {"stroke": {"field": "m", "type": "nominal", "legend": null, "scale": {"domain": ["Ours","LRRNet","MetaFusion","SDDGAN","U2Fusion","FusionGAN","SuperFusion","RFN-Nest"], "range": ["#FF0000","#FFC000","#5B9BD5","#70AD47","#A66DD4","#ED7D31","#264478","#6FA0DC"]}}}},
{"mark": {"type": "line", "strokeWidth": 1}, "encoding": {"stroke": {"field": "m", "type": "nominal", "legend": null, "scale": {"domain": ["Ours","LRRNet","MetaFusion","SDDGAN","U2Fusion","FusionGAN","SuperFusion","RFN-Nest"], "range": ["#FF0000","#FFC000","#5B9BD5","#70AD47","#A66DD4","#ED7D31","#264478","#6FA0DC"]}}}},
{"mark": {"type": "point", "filled": true, "size": 18, "opacity": 1}, "encoding": {
"color": {"field": "m", "type": "nominal", "scale": {"domain": ["RFN-Nest","SuperFusion","FusionGAN","U2Fusion","SDDGAN","MetaFusion","LRRNet","Ours"], "range": ["#6FA0DC","#264478","#ED7D31","#A66DD4","#70AD47","#5B9BD5","#FFC000","#FF0000"]},
"legend": {"title": null, "labelExpr": "datum.label + ':' + {'RFN-Nest':'0.2419','SuperFusion':'0.4347','FusionGAN':'0.1678','U2Fusion':'0.369','SDDGAN':'0.2887','MetaFusion':'0.3352','LRRNet':'0.1667','Ours':'0.4709'}[datum.label]"}},
"shape": {"field": "m", "type": "nominal", "scale": {"domain": ["RFN-Nest","SuperFusion","FusionGAN","U2Fusion","SDDGAN","MetaFusion","LRRNet","Ours"], "range": ["M-1,-0.75L-0.75,-1L0,-0.25L0.75,-1L1,-0.75L0.25,0L1,0.75L0.75,1L0,0.25L-0.75,1L-1,0.75L-0.25,0Z","cross","circle","square","triangle-up","triangle-up","diamond","square"]},
"legend": {"title": null, "labelExpr": "datum.label + ':' + {'RFN-Nest':'0.2419','SuperFusion':'0.4347','FusionGAN':'0.1678','U2Fusion':'0.369','SDDGAN':'0.2887','MetaFusion':'0.3352','LRRNet':'0.1667','Ours':'0.4709'}[datum.label]"}}}}
]
},
{
"title": "Qᶜⱽ", "data": {"name": "qcv"}, "width": 176, "height": 154,
"encoding": {
"x": {"field": "x", "type": "quantitative", "scale": {"domain": [-1, 37.5], "nice": false, "zero": false}, "axis": {"values": [0, 10, 20, 30], "title": "Image pairs"}},
"y": {"field": "y", "type": "quantitative", "scale": {"domain": [600, 2000], "nice": false, "zero": false}, "axis": {"values": [600, 800, 1000, 1200, 1400, 1600, 1800, 2000], "format": "d", "title": "Values of the metric"}}
},
"layer": [
{"mark": {"type": "line", "strokeWidth": 3.5, "opacity": 0.25}, "encoding": {"stroke": {"field": "m", "type": "nominal", "legend": null, "scale": {"domain": ["Ours","LRRNet","MetaFusion","SDDGAN","U2Fusion","FusionGAN","SuperFusion","RFN-Nest"], "range": ["#FF0000","#FFC000","#5B9BD5","#70AD47","#A66DD4","#ED7D31","#264478","#6FA0DC"]}}}},
{"mark": {"type": "line", "strokeWidth": 1}, "encoding": {"stroke": {"field": "m", "type": "nominal", "legend": null, "scale": {"domain": ["Ours","LRRNet","MetaFusion","SDDGAN","U2Fusion","FusionGAN","SuperFusion","RFN-Nest"], "range": ["#FF0000","#FFC000","#5B9BD5","#70AD47","#A66DD4","#ED7D31","#264478","#6FA0DC"]}}}},
{"mark": {"type": "point", "filled": true, "size": 18, "opacity": 1}, "encoding": {
"color": {"field": "m", "type": "nominal", "scale": {"domain": ["RFN-Nest","SuperFusion","FusionGAN","U2Fusion","SDDGAN","MetaFusion","LRRNet","Ours"], "range": ["#6FA0DC","#264478","#ED7D31","#A66DD4","#70AD47","#5B9BD5","#FFC000","#FF0000"]},
"legend": {"title": null, "labelExpr": "datum.label + ':' + {'RFN-Nest':'768.3358','SuperFusion':'672.1874','FusionGAN':'1401.0553','U2Fusion':'822.405','SDDGAN':'1216.9237','MetaFusion':'1199.6316','LRRNet':'1492.4342','Ours':'766.1982'}[datum.label]"}},
"shape": {"field": "m", "type": "nominal", "scale": {"domain": ["RFN-Nest","SuperFusion","FusionGAN","U2Fusion","SDDGAN","MetaFusion","LRRNet","Ours"], "range": ["M-1,-0.75L-0.75,-1L0,-0.25L0.75,-1L1,-0.75L0.25,0L1,0.75L0.75,1L0,0.25L-0.75,1L-1,0.75L-0.25,0Z","cross","circle","square","triangle-up","triangle-up","diamond","square"]},
"legend": {"title": null, "labelExpr": "datum.label + ':' + {'RFN-Nest':'768.3358','SuperFusion':'672.1874','FusionGAN':'1401.0553','U2Fusion':'822.405','SDDGAN':'1216.9237','MetaFusion':'1199.6316','LRRNet':'1492.4342','Ours':'766.1982'}[datum.label]"}}}}
]
},
{
"title": "SCD", "data": {"name": "scd"}, "width": 176, "height": 154,
"encoding": {
"x": {"field": "x", "type": "quantitative", "scale": {"domain": [-1, 37.5], "nice": false, "zero": false}, "axis": {"values": [0, 10, 20, 30], "title": "Image pairs"}},
"y": {"field": "y", "type": "quantitative", "scale": {"domain": [0.3, 2.5], "nice": false, "zero": false}, "axis": {"values": [0.3, 0.8, 1.3, 1.8, 2.3], "format": ".1f", "title": "Values of the metric"}}
},
"layer": [
{"mark": {"type": "line", "strokeWidth": 3.5, "opacity": 0.25}, "encoding": {"stroke": {"field": "m", "type": "nominal", "legend": null, "scale": {"domain": ["Ours","LRRNet","MetaFusion","SDDGAN","U2Fusion","FusionGAN","SuperFusion","RFN-Nest"], "range": ["#FF0000","#FFC000","#5B9BD5","#70AD47","#A66DD4","#ED7D31","#264478","#6FA0DC"]}}}},
{"mark": {"type": "line", "strokeWidth": 1}, "encoding": {"stroke": {"field": "m", "type": "nominal", "legend": null, "scale": {"domain": ["Ours","LRRNet","MetaFusion","SDDGAN","U2Fusion","FusionGAN","SuperFusion","RFN-Nest"], "range": ["#FF0000","#FFC000","#5B9BD5","#70AD47","#A66DD4","#ED7D31","#264478","#6FA0DC"]}}}},
{"mark": {"type": "point", "filled": true, "size": 18, "opacity": 1}, "encoding": {
"color": {"field": "m", "type": "nominal", "scale": {"domain": ["RFN-Nest","SuperFusion","FusionGAN","U2Fusion","SDDGAN","MetaFusion","LRRNet","Ours"], "range": ["#6FA0DC","#264478","#ED7D31","#A66DD4","#70AD47","#5B9BD5","#FFC000","#FF0000"]},
"legend": {"title": null, "labelExpr": "datum.label + ':' + {'RFN-Nest':'1.2989','SuperFusion':'1.411','FusionGAN':'0.574','U2Fusion':'1.2984','SDDGAN':'1.4413','MetaFusion':'1.4352','LRRNet':'0.6692','Ours':'1.4476'}[datum.label]"}},
"shape": {"field": "m", "type": "nominal", "scale": {"domain": ["RFN-Nest","SuperFusion","FusionGAN","U2Fusion","SDDGAN","MetaFusion","LRRNet","Ours"], "range": ["M-1,-0.75L-0.75,-1L0,-0.25L0.75,-1L1,-0.75L0.25,0L1,0.75L0.75,1L0,0.25L-0.75,1L-1,0.75L-0.25,0Z","cross","circle","square","triangle-up","triangle-up","diamond","square"]},
"legend": {"title": null, "labelExpr": "datum.label + ':' + {'RFN-Nest':'1.2989','SuperFusion':'1.411','FusionGAN':'0.574','U2Fusion':'1.2984','SDDGAN':'1.4413','MetaFusion':'1.4352','LRRNet':'0.6692','Ours':'1.4476'}[datum.label]"}}}}
]
},
{
"title": "SSIM", "data": {"name": "ssim"}, "width": 176, "height": 154,
"encoding": {
"x": {"field": "x", "type": "quantitative", "scale": {"domain": [-1, 37.5], "nice": false, "zero": false}, "axis": {"values": [0, 10, 20, 30], "title": "Image pairs"}},
"y": {"field": "y", "type": "quantitative", "scale": {"domain": [0.3, 2.5], "nice": false, "zero": false}, "axis": {"values": [0.3, 0.8, 1.3, 1.8, 2.3], "format": ".1f", "title": "Values of the metric"}}
},
"layer": [
{"mark": {"type": "line", "strokeWidth": 3.5, "opacity": 0.25}, "encoding": {"stroke": {"field": "m", "type": "nominal", "legend": null, "scale": {"domain": ["Ours","LRRNet","MetaFusion","SDDGAN","U2Fusion","FusionGAN","SuperFusion","RFN-Nest"], "range": ["#FF0000","#FFC000","#5B9BD5","#70AD47","#A66DD4","#ED7D31","#264478","#6FA0DC"]}}}},
{"mark": {"type": "line", "strokeWidth": 1}, "encoding": {"stroke": {"field": "m", "type": "nominal", "legend": null, "scale": {"domain": ["Ours","LRRNet","MetaFusion","SDDGAN","U2Fusion","FusionGAN","SuperFusion","RFN-Nest"], "range": ["#FF0000","#FFC000","#5B9BD5","#70AD47","#A66DD4","#ED7D31","#264478","#6FA0DC"]}}}},
{"mark": {"type": "point", "filled": true, "size": 18, "opacity": 1}, "encoding": {
"color": {"field": "m", "type": "nominal", "scale": {"domain": ["RFN-Nest","SuperFusion","FusionGAN","U2Fusion","SDDGAN","MetaFusion","LRRNet","Ours"], "range": ["#6FA0DC","#264478","#ED7D31","#A66DD4","#70AD47","#5B9BD5","#FFC000","#FF0000"]},
"legend": {"title": null, "labelExpr": "datum.label + ':' + {'RFN-Nest':'1.1859','SuperFusion':'1.1656','FusionGAN':'1.1442','U2Fusion':'1.2233','SDDGAN':'1.2322','MetaFusion':'0.9548','LRRNet':'0.8127','Ours':'1.2475'}[datum.label]"}},
"shape": {"field": "m", "type": "nominal", "scale": {"domain": ["RFN-Nest","SuperFusion","FusionGAN","U2Fusion","SDDGAN","MetaFusion","LRRNet","Ours"], "range": ["M-1,-0.75L-0.75,-1L0,-0.25L0.75,-1L1,-0.75L0.25,0L1,0.75L0.75,1L0,0.25L-0.75,1L-1,0.75L-0.25,0Z","cross","circle","square","triangle-up","triangle-up","diamond","square"]},
"legend": {"title": null, "labelExpr": "datum.label + ':' + {'RFN-Nest':'1.1859','SuperFusion':'1.1656','FusionGAN':'1.1442','U2Fusion':'1.2233','SDDGAN':'1.2322','MetaFusion':'0.9548','LRRNet':'0.8127','Ours':'1.2475'}[datum.label]"}}}}
]
}
],
"config": {
"font": "Liberation Serif, Times New Roman, serif",
"view": {"stroke": "#888888", "strokeWidth": 1},
"axis": {"grid": false, "labelFont": "Liberation Serif, Times New Roman, serif", "labelFontSize": 6.5, "labelColor": "#333333", "titleFont": "Liberation Serif, Times New Roman, serif", "titleFontSize": 9.5, "titleFontWeight": "normal", "titleColor": "#222222", "tickSize": 2.5, "tickColor": "#666666", "domainColor": "#666666", "labelPadding": 1, "titlePadding": 2},
"legend": {"orient": "none", "legendX": 25, "legendY": 7, "direction": "horizontal", "columns": 2, "labelFont": "Liberation Serif, Times New Roman, serif", "labelFontSize": 6, "labelColor": "#222222", "symbolSize": 22, "columnPadding": 2, "rowPadding": 3.5, "labelOffset": 6},
"title": {"font": "Liberation Serif, Times New Roman, serif", "fontSize": 7, "fontWeight": "normal", "offset": -2, "color": "#222222"}
}
}
